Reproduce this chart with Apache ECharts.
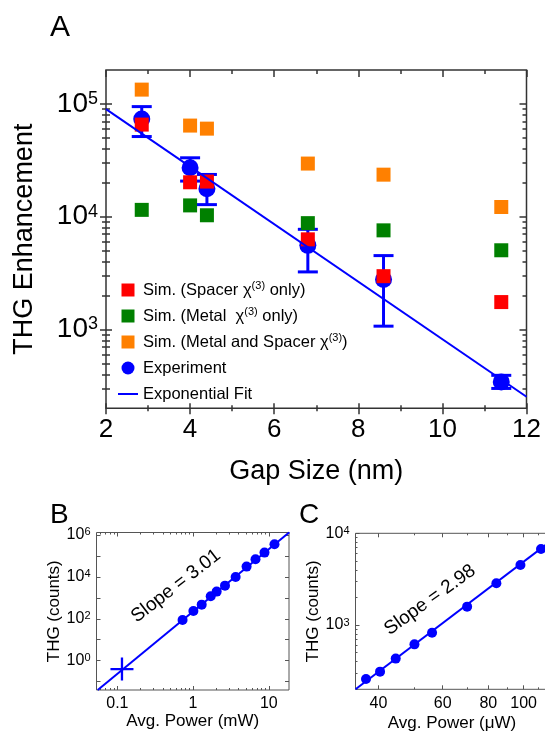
<!DOCTYPE html>
<html>
<head>
<meta charset="utf-8">
<script src="https://cdn.jsdelivr.net/npm/echarts@6/dist/echarts.min.js"></script>
<style>
html, body { margin: 0; padding: 0; background: #fff; }
#chart { width: 545px; height: 735px; }
</style>
</head>
<body>
<div id="chart"></div>
<script>
// ---- panel A : THG enhancement vs gap size ----
var gapSize   = [2.85, 4.0, 4.4, 6.8, 8.6, 11.4];
var simSpacer = [6.56e4, 2.02e4, 2.05e4, 6.3e3, 2.97e3, 1.75e3];
var simMetal  = [1.15e4, 1.26e4, 1.03e4, 8.77e3, 7.57e3, 5.04e3];
var simBoth   = [1.34e5, 6.43e4, 6.04e4, 2.96e4, 2.36e4, 1.22e4];
var expVal    = [7.36e4, 2.72e4, 1.77e4, 5.57e3, 2.77e3, 343];
var expHigh   = [9.47e4, 3.33e4, 2.37e4, 7.73e3, 4.52e3, 392];
var expLow    = [5.14e4, 2.07e4, 1.28e4, 3.24e3, 1.07e3, 300];
var fitGap    = [2, 12];
var fitVal    = [9.0e4, 253];
var aXLabels  = [2, 4, 6, 8, 10, 12];
var aXMinor   = [3, 5, 7, 9, 11];
var aYLabels  = [1e3, 1e4, 1e5];

// ---- panel B : THG vs power (mW) ----
var bPower    = [0.726, 1.01, 1.30, 1.71, 2.05, 2.64, 3.65, 5.09, 6.68, 8.78, 11.9];
var bTHG      = [88, 236, 471, 1190, 1970, 3800, 9890, 3.07e4, 6.9e4, 1.43e5, 3.6e5];
var bCrossPow = [0.115];
var bCrossTHG = [0.40];
var bFitPow   = [0.055, 18.7];
var bFitTHG   = [0.04, 1.35e6];
var bXLabels  = [0.1, 1, 10];
var bYLabels  = [1, 100, 1e4, 1e6];
var bYTicks   = [0.1, 1, 10, 100, 1e3, 1e4, 1e5, 1e6];

// ---- panel C : THG vs power (uW) ----
var cPower    = [36.97, 40.4, 44.6, 50.2, 56.1, 70.0, 84.2, 98.0, 111.6];
var cTHG      = [258, 310, 430, 615, 824, 1585, 2850, 4510, 6740];
var cFitPow   = [34.6, 114.8];
var cFitTHG   = [199, 7450];
var cXLabels  = [40, 60, 80, 100];
var cXMinor   = [50, 70, 90, 110];
var cYLabels  = [1e3, 1e4];

var FONT = 'Liberation Sans, Arial, sans-serif';
var BLUE = '#0000ff';
var log = Math.log10;

function pairs(xs, ys) {
	return xs.map(function (x, i) { return [x, ys[i]]; });
}
// minor ticks k*10^e (k = 2..9) strictly inside (lo, hi)
function logMinor(lo, hi) {
	var out = [];
	for (var e = Math.floor(log(lo)) - 1; e <= Math.ceil(log(hi)); e++) {
		for (var k = 2; k <= 9; k++) {
			var v = k * Math.pow(10, e);
			if (v > lo * 1.0001 && v < hi * 0.9999) out.push(v);
		}
	}
	return out;
}
function pow10Label(v) {
	return '{b|10}{s|' + Math.round(v) + '}';
}
function plainLabel(v) {
	return String(+Math.pow(10, v).toPrecision(6));
}

var xAxes = [], yAxes = [];
// helper axis used only for ticks / labels / names
function deco(list, o) {
	var a = {
		type: 'value', gridIndex: o.grid, position: o.pos,
		min: o.range[0], max: o.range[1],
		axisLine: { show: false, onZero: false },
		splitLine: { show: false },
		axisPointer: { show: false },
		axisTick: o.ticks ? {
			show: true, customValues: o.ticks, length: o.len, inside: !!o.inside,
			lineStyle: { color: o.color || '#333', width: o.width || 1 }
		} : { show: false },
		axisLabel: o.labels ? {
			show: true, customValues: o.labels, formatter: o.fmt, margin: o.margin,
			color: '#000', fontSize: o.font, fontFamily: FONT, rich: o.rich
		} : { show: false }
	};
	if (o.name) {
		a.name = o.name;
		a.nameLocation = 'middle';
		a.nameGap = o.nameGap;
		a.nameTextStyle = { fontSize: o.nameSize, color: '#000', fontFamily: FONT };
	}
	list.push(a);
	return list.length - 1;
}
function dataAxis(list, grid, type, min, max) {
	list.push({ type: type, gridIndex: grid, min: min, max: max, logBase: 10, show: false,
		axisLine: { onZero: false } });
	return list.length - 1;
}

// ----- panel A axes -----
var aXR = [2, 12], aYR = [200, 2e5];
var aYRl = [log(aYR[0]), log(aYR[1])];
var aYMinor = logMinor(aYR[0], aYR[1]).map(log);
var aYMajor = aYLabels.map(log);
var aX = dataAxis(xAxes, 0, 'value', aXR[0], aXR[1]);
var aY = dataAxis(yAxes, 0, 'log', aYR[0], aYR[1]);
deco(xAxes, { grid: 0, pos: 'bottom', range: aXR, labels: aXLabels, fmt: function (v) { return v; },
	font: 26, margin: 9, name: 'Gap Size (nm)', nameGap: 50, nameSize: 27 });
deco(xAxes, { grid: 0, pos: 'bottom', range: aXR, ticks: aXLabels, len: 5, inside: true, width: 1.5 });
deco(xAxes, { grid: 0, pos: 'bottom', range: aXR, ticks: aXLabels, len: 6, width: 1.5 });
deco(xAxes, { grid: 0, pos: 'bottom', range: aXR, ticks: aXMinor, len: 3, inside: true, width: 1.5 });
deco(xAxes, { grid: 0, pos: 'bottom', range: aXR, ticks: aXMinor, len: 3, width: 1.5 });
deco(xAxes, { grid: 0, pos: 'top', range: aXR, ticks: aXLabels, len: 7, inside: true, width: 1.5 });
deco(xAxes, { grid: 0, pos: 'top', range: aXR, ticks: aXMinor, len: 4, inside: true, width: 1.5 });
deco(yAxes, { grid: 0, pos: 'left', range: aYRl, labels: aYMajor, fmt: pow10Label, margin: 8,
	rich: {
		b: { fontSize: 28, lineHeight: 28, padding: [5, 0, 0, 0], verticalAlign: 'bottom', fontFamily: FONT, color: '#000' },
		s: { fontSize: 18, lineHeight: 18, verticalAlign: 'top', fontFamily: FONT, color: '#000' }
	},
	name: 'THG Enhancement', nameGap: 68, nameSize: 27 });
deco(yAxes, { grid: 0, pos: 'left', range: aYRl, ticks: aYMajor, len: 6, inside: true, width: 1.5 });
deco(yAxes, { grid: 0, pos: 'left', range: aYRl, ticks: aYMajor, len: 6, width: 1.5 });
deco(yAxes, { grid: 0, pos: 'left', range: aYRl, ticks: aYMinor, len: 4, inside: true, width: 1.5 });
deco(yAxes, { grid: 0, pos: 'left', range: aYRl, ticks: aYMinor, len: 4, width: 1.5 });
deco(yAxes, { grid: 0, pos: 'right', range: aYRl, ticks: aYMajor, len: 7, inside: true, width: 1.5 });
deco(yAxes, { grid: 0, pos: 'right', range: aYRl, ticks: aYMinor, len: 4, inside: true, width: 1.5 });

// ----- panel B axes -----
var bXR = [0.053, 18.5], bYR = [0.04, 1.3e6];
var bXRl = [log(bXR[0]), log(bXR[1])], bYRl = [log(bYR[0]), log(bYR[1])];
var bX = dataAxis(xAxes, 1, 'log', bXR[0], bXR[1]);
var bY = dataAxis(yAxes, 1, 'log', bYR[0], bYR[1]);
var smallRich = {
	b: { fontSize: 16, lineHeight: 16, padding: [3, 0, 0, 0], verticalAlign: 'bottom', fontFamily: FONT, color: '#000' },
	s: { fontSize: 11, lineHeight: 11, verticalAlign: 'top', fontFamily: FONT, color: '#000' }
};
deco(xAxes, { grid: 1, pos: 'bottom', range: bXRl, labels: bXLabels.map(log), fmt: plainLabel,
	font: 16, margin: 6, name: 'Avg. Power (mW)', nameGap: 22, nameSize: 17 });
deco(xAxes, { grid: 1, pos: 'bottom', range: bXRl, ticks: bXLabels.map(log), len: 4, inside: true, color: '#555' });
deco(xAxes, { grid: 1, pos: 'bottom', range: bXRl, ticks: logMinor(bXR[0], bXR[1]).map(log), len: 2, inside: true, color: '#555' });
deco(xAxes, { grid: 1, pos: 'top', range: bXRl, ticks: bXLabels.map(log), len: 4, inside: true, color: '#555' });
deco(xAxes, { grid: 1, pos: 'top', range: bXRl, ticks: logMinor(bXR[0], bXR[1]).map(log), len: 2, inside: true, color: '#555' });
deco(yAxes, { grid: 1, pos: 'left', range: bYRl, labels: bYLabels.map(log), fmt: pow10Label, margin: 6,
	rich: smallRich, name: 'THG (counts)', nameGap: 32, nameSize: 17 });
deco(yAxes, { grid: 1, pos: 'left', range: bYRl, ticks: bYTicks.map(log), len: 4, inside: true, color: '#555' });
deco(yAxes, { grid: 1, pos: 'right', range: bYRl, ticks: bYTicks.map(log), len: 4, inside: true, color: '#555' });

// ----- panel C axes -----
var cXR = [34.6, 117], cYR = [199, 1e4];
var cXRl = [log(cXR[0]), log(cXR[1])], cYRl = [log(cYR[0]), log(cYR[1])];
var cX = dataAxis(xAxes, 2, 'log', cXR[0], cXR[1]);
var cY = dataAxis(yAxes, 2, 'log', cYR[0], cYR[1]);
deco(xAxes, { grid: 2, pos: 'bottom', range: cXRl, labels: cXLabels.map(log), fmt: plainLabel,
	font: 16, margin: 6, name: 'Avg. Power (\u03bcW)', nameGap: 26, nameSize: 17 });
deco(xAxes, { grid: 2, pos: 'bottom', range: cXRl, ticks: cXLabels.map(log), len: 4, inside: true, color: '#555' });
deco(xAxes, { grid: 2, pos: 'bottom', range: cXRl, ticks: cXMinor.map(log), len: 2, inside: true, color: '#555' });
deco(xAxes, { grid: 2, pos: 'top', range: cXRl, ticks: cXLabels.map(log), len: 4, inside: true, color: '#555' });
deco(xAxes, { grid: 2, pos: 'top', range: cXRl, ticks: cXMinor.map(log), len: 2, inside: true, color: '#555' });
deco(yAxes, { grid: 2, pos: 'left', range: cYRl, labels: cYLabels.map(log), fmt: pow10Label, margin: 6,
	rich: smallRich, name: 'THG (counts)', nameGap: 30, nameSize: 17 });
deco(yAxes, { grid: 2, pos: 'left', range: cYRl, ticks: cYLabels.map(log), len: 4, inside: true, color: '#555' });
deco(yAxes, { grid: 2, pos: 'left', range: cYRl, ticks: logMinor(cYR[0], cYR[1]).map(log), len: 2, inside: true, color: '#555' });

function scatter(name, xi, yi, data, symbol, size, color) {
	return {
		name: name, type: 'scatter', xAxisIndex: xi, yAxisIndex: yi,
		symbol: symbol, symbolSize: size, data: data,
		itemStyle: { color: color, opacity: 1 }, silent: true
	};
}
function fitLine(name, xi, yi, data, width) {
	return {
		name: name, type: 'line', xAxisIndex: xi, yAxisIndex: yi, data: data,
		symbol: 'none', lineStyle: { color: BLUE, width: width }, itemStyle: { color: BLUE },
		clip: true, silent: true
	};
}

var errData = gapSize.map(function (g, i) { return [g, expLow[i], expHigh[i]]; });

// legend icons: square centred in a 20x13 box, and a plain line
var squareIcon = 'path://M0,0M20,13M3.5,0h13v13h-13z';
var lineIcon = 'path://M0,0M20,13M0,5.5h20v2h-20z';

var myChart = echarts.init(document.getElementById('chart'));
myChart.setOption({
	animation: false,
	backgroundColor: '#fff',
	grid: [
		{ left: 106, top: 70, width: 420.5, height: 338.3, show: true, borderColor: '#333', borderWidth: 1.5, outerBoundsMode: 'none' },
		{ left: 96.5, top: 532.5, width: 192.5, height: 157.5, show: true, borderColor: '#555', borderWidth: 1, outerBoundsMode: 'none' },
		{ left: 355.5, top: 533.3, width: 193, height: 156, show: true, borderColor: '#555', borderWidth: 1, outerBoundsMode: 'none' }
	],
	xAxis: xAxes,
	yAxis: yAxes,
	legend: {
		orient: 'vertical', left: 118, top: 280, padding: 0,
		itemWidth: 20, itemHeight: 13, itemGap: 6, selectedMode: false,
		textStyle: {
			fontSize: 16.5, lineHeight: 20, color: '#000', fontFamily: FONT,
			rich: { s: { fontSize: 11, lineHeight: 11, verticalAlign: 'top', color: '#000', fontFamily: FONT } }
		},
		formatter: function (name) { return name.replace('(3)', '{s|(3)}'); },
		data: [
			{ name: 'Sim. (Spacer \u03c7(3) only)', icon: squareIcon },
			{ name: 'Sim. (Metal  \u03c7(3) only)', icon: squareIcon },
			{ name: 'Sim. (Metal and Spacer \u03c7(3))', icon: squareIcon },
			{ name: 'Experiment', icon: 'circle' },
			{ name: 'Exponential Fit', icon: lineIcon }
		]
	},
	graphic: [
		{ type: 'text', style: { x: 50, y: 28, text: 'A', fontSize: 30, fontFamily: FONT, fill: '#000', verticalAlign: 'middle' } },
		{ type: 'text', style: { x: 50, y: 515, text: 'B', fontSize: 28, fontFamily: FONT, fill: '#000', verticalAlign: 'middle' } },
		{ type: 'text', style: { x: 299, y: 515, text: 'C', fontSize: 28, fontFamily: FONT, fill: '#000', verticalAlign: 'middle' } },
		{ type: 'text', x: 176, y: 586, rotation: 37.7 * Math.PI / 180,
			style: { x: 0, y: 0, text: 'Slope = 3.01', fontSize: 19, fontFamily: FONT, fill: '#000', align: 'center', verticalAlign: 'middle' } },
		{ type: 'text', x: 430, y: 600, rotation: 35.6 * Math.PI / 180,
			style: { x: 0, y: 0, text: 'Slope = 2.98', fontSize: 19, fontFamily: FONT, fill: '#000', align: 'center', verticalAlign: 'middle' } }
	],
	series: [
		fitLine('Exponential Fit', aX, aY, pairs(fitGap, fitVal), 2),
		scatter('Experiment', aX, aY, pairs(gapSize, expVal), 'circle', 17, BLUE),
		{
			type: 'custom', xAxisIndex: aX, yAxisIndex: aY, data: errData,
			encode: { x: 0, y: [1, 2] }, silent: true,
			renderItem: function (params, api) {
				var x = api.value(0);
				var lo = api.coord([x, api.value(1)]);
				var hi = api.coord([x, api.value(2)]);
				var w = 10;
				var st = { stroke: BLUE, lineWidth: 3 };
				return {
					type: 'group', children: [
						{ type: 'line', shape: { x1: lo[0], y1: lo[1], x2: hi[0], y2: hi[1] }, style: st },
						{ type: 'line', shape: { x1: hi[0] - w, y1: hi[1], x2: hi[0] + w, y2: hi[1] }, style: st },
						{ type: 'line', shape: { x1: lo[0] - w, y1: lo[1], x2: lo[0] + w, y2: lo[1] }, style: st }
					]
				};
			}
		},
		scatter('Sim. (Metal  \u03c7(3) only)', aX, aY, pairs(gapSize, simMetal), 'rect', 14, '#008000'),
		scatter('Sim. (Metal and Spacer \u03c7(3))', aX, aY, pairs(gapSize, simBoth), 'rect', 14, '#ff8000'),
		scatter('Sim. (Spacer \u03c7(3) only)', aX, aY, pairs(gapSize, simSpacer), 'rect', 14, '#ff0000'),

		fitLine('B fit', bX, bY, pairs(bFitPow, bFitTHG), 2),
		scatter('B data', bX, bY, pairs(bPower, bTHG), 'circle', 10, BLUE),
		scatter('B limit', bX, bY, pairs(bCrossPow, bCrossTHG), 'path://M9,0H11V20H9Z M0,9H20V11H0Z', 23, BLUE),

		fitLine('C fit', cX, cY, pairs(cFitPow, cFitTHG), 2),
		scatter('C data', cX, cY, pairs(cPower, cTHG), 'circle', 10, BLUE)
	]
});
window.addEventListener('resize', function () {
	myChart.resize();
});
</script>
</body>
</html>
